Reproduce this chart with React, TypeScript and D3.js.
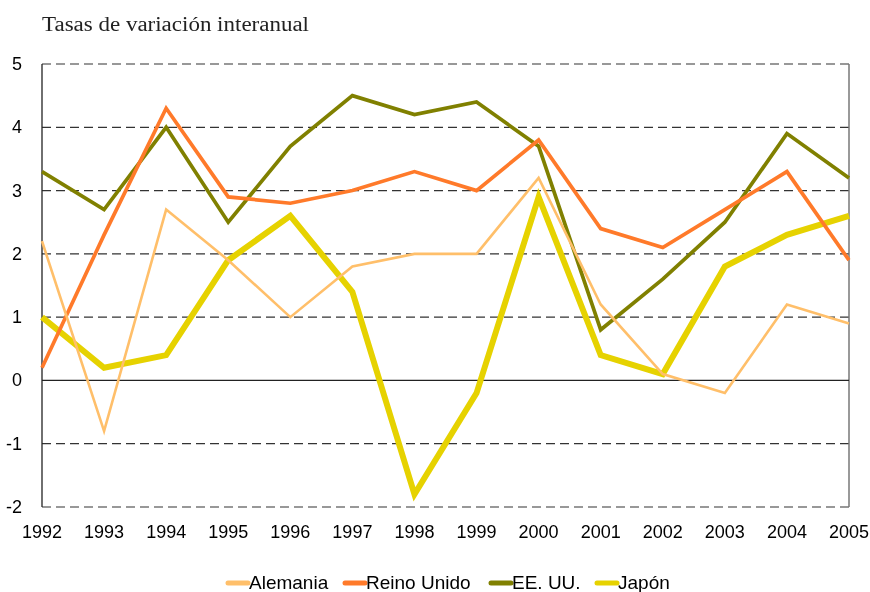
import React, { useEffect, useRef } from 'react';
import * as d3 from 'd3';

const years = [1992, 1993, 1994, 1995, 1996, 1997, 1998, 1999, 2000, 2001, 2002, 2003, 2004, 2005];
const alemania = [2.2, -0.8, 2.7, 1.9, 1.0, 1.8, 2.0, 2.0, 3.2, 1.2, 0.1, -0.2, 1.2, 0.9];
const reinoUnido = [0.2, 2.3, 4.3, 2.9, 2.8, 3.0, 3.3, 3.0, 3.8, 2.4, 2.1, 2.7, 3.3, 1.9];
const eeuu = [3.3, 2.7, 4.0, 2.5, 3.7, 4.5, 4.2, 4.4, 3.7, 0.8, 1.6, 2.5, 3.9, 3.2];
const japon = [1.0, 0.2, 0.4, 1.9, 2.6, 1.4, -1.8, -0.2, 2.9, 0.4, 0.1, 1.8, 2.3, 2.6];
const yTicks = [-2, -1, 0, 1, 2, 3, 4, 5];

const series = [
  { name: 'Alemania', values: alemania, color: '#ffbf6a', width: 2.6 },
  { name: 'Reino Unido', values: reinoUnido, color: '#ff7a2a', width: 3.7 },
  { name: 'EE. UU.', values: eeuu, color: '#808000', width: 3.7 },
  { name: 'Japón', values: japon, color: '#e6d200', width: 6 },
];

const App = () => {
  const ref = useRef<SVGSVGElement>(null);

  useEffect(() => {
    const width = 870;
    const height = 592;
    const left = 42;
    const right = 849;
    const top = 64;
    const bottom = 507;

    const svg = d3.select(ref.current);
    svg.selectAll('*').remove();

    const x = d3.scaleLinear().domain([1992, 2005]).range([left, right]);
    const y = d3.scaleLinear().domain([-2, 5]).range([bottom, top]);

    // title
    svg
      .append('text')
      .attr('x', 42)
      .attr('y', 31)
      .attr('font-family', 'Liberation Serif, serif')
      .attr('font-size', 20)
      .attr('textLength', 267)
      .attr('lengthAdjust', 'spacingAndGlyphs')
      .attr('fill', '#222')
      .text('Tasas de variación interanual');

    // grid
    svg
      .append('g')
      .selectAll('line')
      .data(yTicks.filter((d) => d !== 0))
      .join('line')
      .attr('x1', left)
      .attr('x2', right)
      .attr('y1', (d) => y(d))
      .attr('y2', (d) => y(d))
      .attr('stroke', '#333')
      .attr('stroke-width', 1.2)
      .attr('stroke-dasharray', '9,5');

    // frame
    svg
      .append('line')
      .attr('x1', right)
      .attr('x2', right)
      .attr('y1', top)
      .attr('y2', bottom)
      .attr('stroke', '#777')
      .attr('stroke-width', 1.5);
    svg
      .append('line')
      .attr('x1', left)
      .attr('x2', right)
      .attr('y1', y(0))
      .attr('y2', y(0))
      .attr('stroke', '#222')
      .attr('stroke-width', 1.3);
    svg
      .append('line')
      .attr('x1', left)
      .attr('x2', left)
      .attr('y1', top)
      .attr('y2', bottom)
      .attr('stroke', '#222')
      .attr('stroke-width', 1.3);

    // y labels
    svg
      .append('g')
      .selectAll('text')
      .data(yTicks)
      .join('text')
      .attr('x', 22)
      .attr('y', (d) => y(d) + 6)
      .attr('text-anchor', 'end')
      .attr('font-family', 'Liberation Sans, Arial, sans-serif')
      .attr('font-size', 18)
      .attr('fill', '#000')
      .text((d) => d);

    // x labels
    svg
      .append('g')
      .selectAll('text')
      .data(years)
      .join('text')
      .attr('x', (d) => x(d))
      .attr('y', 538)
      .attr('text-anchor', 'middle')
      .attr('font-family', 'Liberation Sans, Arial, sans-serif')
      .attr('font-size', 18)
      .attr('fill', '#000')
      .text((d) => d);

    // lines, last series drawn first
    const line = d3
      .line<number>()
      .x((_, i) => x(years[i]))
      .y((d) => y(d));

    svg
      .append('g')
      .selectAll('path')
      .data(series.slice().reverse())
      .join('path')
      .attr('d', (s) => line(s.values))
      .attr('fill', 'none')
      .attr('stroke', (s) => s.color)
      .attr('stroke-width', (s) => s.width)
      .attr('stroke-linejoin', 'miter');

    // legend
    const legendX = [228, 345, 491, 597];
    const lg = svg
      .append('g')
      .selectAll('g')
      .data(series)
      .join('g')
      .attr('transform', (_, i) => `translate(${legendX[i]},583)`);
    lg.append('line')
      .attr('x1', 0)
      .attr('x2', 20)
      .attr('stroke', (s) => s.color)
      .attr('stroke-width', 5)
      .attr('stroke-linecap', 'round');
    lg.append('text')
      .attr('x', 21)
      .attr('y', 6)
      .attr('font-family', 'Liberation Sans, Arial, sans-serif')
      .attr('font-size', 19)
      .attr('fill', '#000')
      .text((s) => s.name);

    svg.attr('width', width).attr('height', height);
  }, []);

  return (
    <div style={{ position: 'fixed', left: 0, top: 0, width: 870, height: 592, overflow: 'hidden' }}>
      <svg ref={ref} style={{ display: 'block' }}></svg>
    </div>
  );
};

export default App;
